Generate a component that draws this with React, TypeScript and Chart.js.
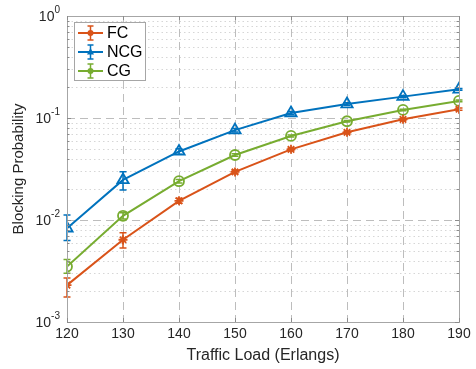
import React, { useEffect, useRef } from "react";
import { Chart, registerables } from "chart.js";

Chart.register(...registerables);

const loads = [120, 130, 140, 150, 160, 170, 180, 190];
const fcValues = [0.0023, 0.0064, 0.0154, 0.0296, 0.0493, 0.0724, 0.097, 0.122];
const fcLow = [0.00176, 0.0053, 0.0146, 0.0285, 0.0480, 0.0708, 0.095, 0.119];
const fcHigh = [0.0027, 0.0075, 0.0163, 0.0307, 0.0506, 0.0740, 0.099, 0.125];
const ncgValues = [0.0083, 0.0247, 0.0470, 0.0760, 0.112, 0.137, 0.162, 0.191];
const ncgLow = [0.0063, 0.0197, 0.0440, 0.0730, 0.108, 0.133, 0.158, 0.187];
const ncgHigh = [0.0112, 0.0298, 0.0500, 0.0790, 0.116, 0.141, 0.166, 0.195];
const cgValues = [0.0035, 0.011, 0.0240, 0.0434, 0.0667, 0.0929, 0.120, 0.147];
const cgLow = [0.0030, 0.0102, 0.0230, 0.0422, 0.0652, 0.0912, 0.118, 0.144];
const cgHigh = [0.0041, 0.0118, 0.0250, 0.0446, 0.0682, 0.0946, 0.122, 0.150];
const xTicks = [120, 130, 140, 150, 160, 170, 180, 190];
const yDecades = [-3, -2, -1, 0];
const seriesNames = ["FC", "NCG", "CG"];
const seriesColors = ["#D95319", "#0072BD", "#77AC30"];

const FONT = "'Liberation Sans', Arial, Helvetica, sans-serif";

const errorData = [
  { low: fcLow, high: fcHigh },
  { low: ncgLow, high: ncgHigh },
  { low: cgLow, high: cgHigh },
];

const customPlugin = {
  id: "matlabStyle",
  beforeDatasetsDraw(chart: any) {
    const ctx: CanvasRenderingContext2D = chart.ctx;
    const { left, right, top, bottom } = chart.chartArea;
    const xs = chart.scales.x;
    const ys = chart.scales.y;
    ctx.save();
    ctx.strokeStyle = "#d6d6d6";
    ctx.lineWidth = 1;
    ctx.setLineDash([1.5, 3]);
    for (let d = -3; d < 0; d++) {
      for (let m = 2; m <= 9; m++) {
        const y = Math.round(ys.getPixelForValue(m * Math.pow(10, d))) + 0.5;
        ctx.beginPath();
        ctx.moveTo(left, y);
        ctx.lineTo(right, y);
        ctx.stroke();
      }
    }
    ctx.strokeStyle = "#bdbdbd";
    ctx.setLineDash([8, 5]);
    for (const d of yDecades) {
      const y = Math.round(ys.getPixelForValue(Math.pow(10, d))) + 0.5;
      if (y <= top + 1 || y >= bottom - 1) continue;
      ctx.beginPath();
      ctx.moveTo(left, y);
      ctx.lineTo(right, y);
      ctx.stroke();
    }
    for (const t of xTicks) {
      const x = Math.round(xs.getPixelForValue(t)) + 0.5;
      if (x <= left + 1 || x >= right - 1) continue;
      ctx.beginPath();
      ctx.moveTo(x, top);
      ctx.lineTo(x, bottom);
      ctx.stroke();
    }
    ctx.setLineDash([]);
    chart.data.datasets.forEach((ds: any, i: number) => {
      const e = errorData[i];
      ctx.strokeStyle = seriesColors[i];
      ctx.lineWidth = 1.5;
      loads.forEach((l, j) => {
        const x = xs.getPixelForValue(l);
        const y1 = ys.getPixelForValue(e.low[j]);
        const y2 = ys.getPixelForValue(e.high[j]);
        ctx.beginPath();
        ctx.moveTo(x, y1);
        ctx.lineTo(x, y2);
        ctx.moveTo(x - 3.5, y1);
        ctx.lineTo(x + 3.5, y1);
        ctx.moveTo(x - 3.5, y2);
        ctx.lineTo(x + 3.5, y2);
        ctx.stroke();
      });
    });
    ctx.restore();
  },
  afterDraw(chart: any) {
    const ctx: CanvasRenderingContext2D = chart.ctx;
    const { left, right, top, bottom } = chart.chartArea;
    const xs = chart.scales.x;
    const ys = chart.scales.y;
    ctx.save();
    ctx.strokeStyle = "#a6a6a6";
    ctx.lineWidth = 1;
    ctx.strokeRect(Math.round(left) + 0.5, Math.round(top) + 0.5, Math.round(right - left), Math.round(bottom - top));
    ctx.strokeStyle = "#8c8c8c";
    for (let d = -3; d < 0; d++) {
      for (let m = 1; m <= 9; m++) {
        const y = Math.round(ys.getPixelForValue(m * Math.pow(10, d))) + 0.5;
        const len = m === 1 ? 4 : 2.5;
        ctx.beginPath();
        ctx.moveTo(left, y);
        ctx.lineTo(left + len, y);
        ctx.moveTo(right, y);
        ctx.lineTo(right - len, y);
        ctx.stroke();
      }
    }
    for (const t of xTicks) {
      const x = Math.round(xs.getPixelForValue(t)) + 0.5;
      ctx.beginPath();
      ctx.moveTo(x, bottom);
      ctx.lineTo(x, bottom - 4);
      ctx.moveTo(x, top);
      ctx.lineTo(x, top + 4);
      ctx.stroke();
    }
    ctx.fillStyle = "#262626";
    ctx.textBaseline = "middle";
    for (const d of yDecades) {
      const y = ys.getPixelForValue(Math.pow(10, d));
      const exp = String(d);
      ctx.font = `10px ${FONT}`;
      const ew = ctx.measureText(exp).width;
      ctx.textAlign = "left";
      const ex = left - 7 - ew;
      ctx.fillText(exp, ex, y - 6);
      ctx.font = `14px ${FONT}`;
      ctx.textAlign = "right";
      ctx.fillText("10", ex, y + 1);
    }
    const lx = 74.5, ly = 22.5, lw = 71, lh = 58;
    ctx.fillStyle = "#ffffff";
    ctx.fillRect(lx, ly, lw, lh);
    ctx.strokeStyle = "#a6a6a6";
    ctx.lineWidth = 1;
    ctx.strokeRect(lx, ly, lw, lh);
    const styles = ["circleFill", "triFill", "circleFill"];
    seriesNames.forEach((name, i) => {
      const cy = 33 + i * 19;
      const c = seriesColors[i];
      ctx.strokeStyle = c;
      ctx.fillStyle = c;
      ctx.lineWidth = 2;
      ctx.beginPath();
      ctx.moveTo(78, cy);
      ctx.lineTo(103, cy);
      ctx.stroke();
      ctx.lineWidth = 1.5;
      ctx.beginPath();
      ctx.moveTo(90.5, cy - 7);
      ctx.lineTo(90.5, cy + 7);
      ctx.moveTo(87.5, cy - 7);
      ctx.lineTo(93.5, cy - 7);
      ctx.moveTo(87.5, cy + 7);
      ctx.lineTo(93.5, cy + 7);
      ctx.stroke();
      ctx.beginPath();
      if (styles[i] === "triFill") {
        ctx.moveTo(90.5, cy - 4);
        ctx.lineTo(94, cy + 2.5);
        ctx.lineTo(87, cy + 2.5);
        ctx.closePath();
      } else {
        ctx.arc(90.5, cy, 3, 0, Math.PI * 2);
      }
      ctx.fill();
      ctx.fillStyle = "#000000";
      ctx.font = `16px ${FONT}`;
      ctx.textAlign = "left";
      ctx.textBaseline = "middle";
      ctx.fillText(name, 107, cy + 1);
    });
    ctx.restore();
  },
};

function makeDataset(label: string, data: number[], color: string, pointStyle: string, radius: number) {
  return {
    label,
    data: loads.map((l, i) => ({ x: l, y: data[i] })),
    borderColor: color,
    backgroundColor: "rgba(0,0,0,0)",
    borderWidth: 2,
    pointStyle,
    pointRadius: radius,
    pointBorderColor: color,
    pointBackgroundColor: "rgba(0,0,0,0)",
    pointBorderWidth: 1.8,
    tension: 0,
    fill: false,
  };
}

export default function App() {
  const ref = useRef<HTMLCanvasElement>(null);
  useEffect(() => {
    if (!ref.current) return;
    const chart = new Chart(ref.current, {
      type: "line",
      data: {
        datasets: [
          makeDataset("FC", fcValues, seriesColors[0], "star", 4.5),
          makeDataset("NCG", ncgValues, seriesColors[1], "triangle", 6.5),
          makeDataset("CG", cgValues, seriesColors[2], "circle", 5),
        ],
      },
      options: {
        animation: false,
        responsive: false,
        maintainAspectRatio: false,
        layout: { padding: { left: 0, right: 17, top: 16, bottom: 0 } },
        plugins: { legend: { display: false }, tooltip: { enabled: false } },
        scales: {
          x: {
            type: "linear",
            min: 120,
            max: 190,
            afterBuildTicks: (scale: any) => {
              scale.ticks = xTicks.map((v) => ({ value: v }));
            },
            afterFit: (scale: any) => {
              scale.height = 47;
            },
            grid: { display: false, drawTicks: false },
            border: { display: false },
            ticks: { color: "#262626", font: { size: 14, family: FONT }, padding: 4, maxRotation: 0 },
            title: {
              display: true,
              text: "Traffic Load (Erlangs)",
              color: "#262626",
              font: { size: 16, family: FONT },
              padding: { top: 0, bottom: 4 },
            },
          },
          y: {
            type: "logarithmic",
            min: 0.001,
            max: 1,
            afterFit: (scale: any) => {
              scale.width = 67;
            },
            grid: { display: false, drawTicks: false },
            border: { display: false },
            ticks: { display: false },
            title: {
              display: true,
              text: "Blocking Probability",
              color: "#262626",
              font: { size: 15, family: FONT },
              padding: { top: 10, bottom: 0 },
            },
          },
        },
      },
      plugins: [customPlugin],
    } as any);
    return () => chart.destroy();
  }, []);
  return (
    <div style={{ position: "fixed", left: 0, top: 0, width: 476, height: 369, background: "#fff" }}>
      <canvas ref={ref} width={476} height={369} style={{ width: 476, height: 369 }} />
    </div>
  );
}
